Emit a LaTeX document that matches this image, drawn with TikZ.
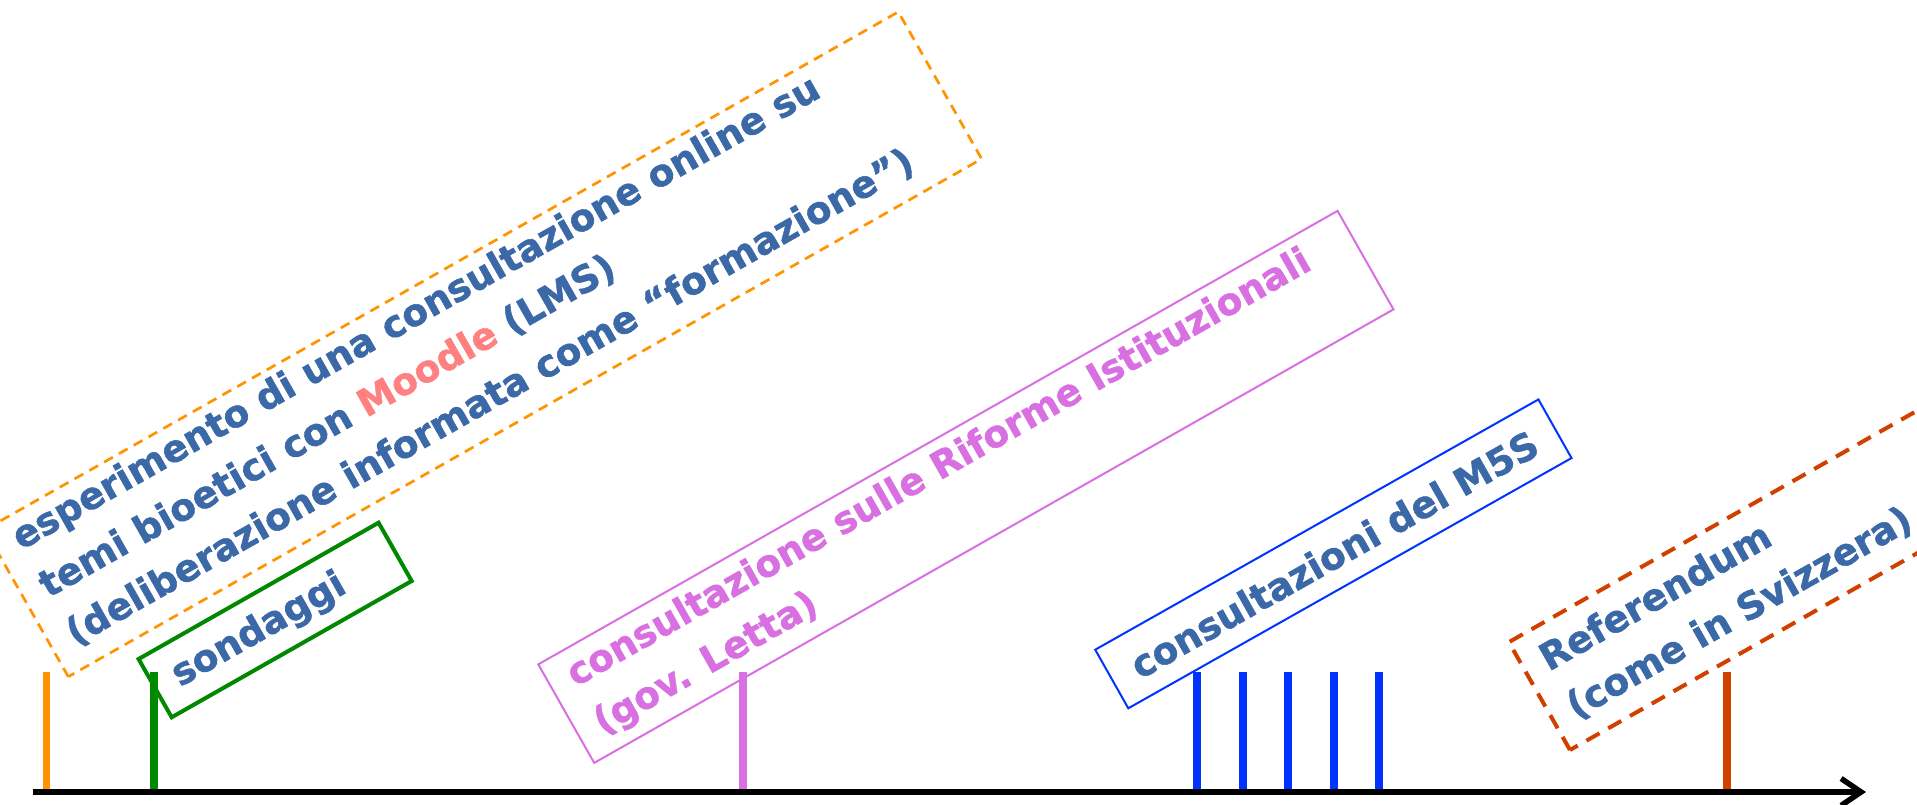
\documentclass[tikz,border=0pt]{standalone}
\usepackage{fontspec}
\setmainfont{DejaVu Sans}[BoldFont={DejaVu Sans Bold}, BoldFeatures={FakeBold=1.2}]
\usetikzlibrary{arrows.meta}
\definecolor{txtblue}{RGB}{59,104,166}
\definecolor{moodlec}{RGB}{255,128,128}
\definecolor{orangec}{RGB}{255,148,0}
\definecolor{greenc}{RGB}{0,136,0}
\definecolor{violetc}{RGB}{216,112,226}
\definecolor{bluec}{RGB}{0,51,255}
\definecolor{redc}{RGB}{210,64,0}
\begin{document}
\begin{tikzpicture}[x=1pt,y=1pt,
  lbl/.style={inner sep=0pt, anchor=base west, transform shape,
    font=\fontsize{37.5}{45}\selectfont\bfseries, text=txtblue},
  tick/.style={line width=7.5pt}]
\useasboundingbox (0,0) rectangle (1917,804);
\clip (0,0) rectangle (1917,804);
\fill[white] (0,0) rectangle (1917,804);

% ticks
\foreach \x/\c/\n in {46.5/orangec/t1, 154/greenc/t2, 743/violetc/t3, 1197/bluec/t4, 1243/bluec/t5, 1288/bluec/t6, 1334/bluec/t7, 1379/bluec/t8, 1727/redc/t9}{
  \coordinate (\n b) at (\x,12);
  \coordinate (\n t) at (\x,132);
  \draw[tick, draw=\c] (\n b) -- (\n t);
}

% axis
\coordinate (axS) at (33,12);
\coordinate (axE) at (1866,12);
\draw[line width=5.5pt, -{Straight Barb[length=20pt,width=27pt]}] (axS) -- (axE);

% orange dashed box
\begin{scope}[shift={(68.3,127.3)}, rotate=29.55]
  \draw[orangec, line width=2.7pt, dash pattern=on 10pt off 7pt] (0,0) rectangle (1050,169);
  \node[lbl] (o1) at (21,133) {esperimento di una consultazione online su};
  \node[lbl] (o2) at (21,78) {temi bioetici con \textcolor{moodlec}{Moodle} (LMS)};
  \node[lbl] (o3) at (21,23) {(deliberazione informata come “formazione”)};
\end{scope}

% green box
\begin{scope}[shift={(171.7,86.7)}, rotate=29.6]
  \draw[greenc, line width=4pt] (0,0) rectangle (276,67);
  \node[lbl] (g1) at (22,22) {sondaggi};
\end{scope}

% violet box
\begin{scope}[shift={(594.2,41.1)}, rotate=29.57]
  \draw[violetc, line width=2pt] (0,0) rectangle (919,113.3);
  \node[lbl, text=violetc] (v1) at (21,75) {consultazione sulle Riforme Istituzionali};
  \node[lbl, text=violetc] (v2) at (21,20) {(gov. Letta)};
\end{scope}

% blue box
\begin{scope}[shift={(1128.3,95.7)}, rotate=29.45]
  \draw[bluec, line width=2pt] (0,0) rectangle (509,67.3);
  \node[lbl] (b1) at (24,19) {consultazioni del M5S};
\end{scope}

% red dashed box
\begin{scope}[shift={(1570,54)}, rotate=29.55]
  \draw[redc, line width=4pt, dash pattern=on 15pt off 10pt] (0,0) rectangle (468,124);
  \node[lbl] (r1) at (20,78.5) {Referendum};
  \node[lbl] (r2) at (20,23.5) {(come in Svizzera)};
\end{scope}
\end{tikzpicture}
\end{document}
